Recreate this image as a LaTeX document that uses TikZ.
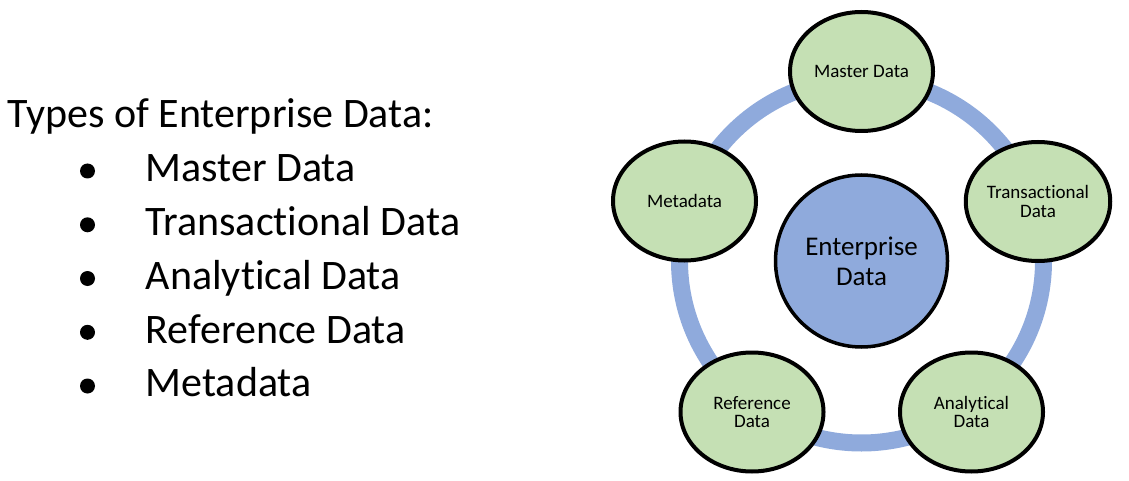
\documentclass[tikz,border=0pt]{standalone}
\usepackage{fontspec}
\setmainfont{Carlito}[Ligatures=NoCommon]
\usetikzlibrary{shapes.geometric}
\definecolor{leaf}{HTML}{C5E0B4}
\definecolor{core}{HTML}{8FAADC}
\begin{document}
\begin{tikzpicture}[x=1pt,y=-1pt,
  typebox/.style={ellipse, draw=black, line width=4pt, fill=leaf, minimum width=143pt, minimum height=119pt, inner sep=0pt, align=center, font=\fontsize{19}{18.5}\selectfont},
  hub/.style={circle, draw=black, line width=3.5pt, fill=core, minimum size=172pt, inner sep=0pt, align=center, font=\fontsize{27}{30}\selectfont},
  ring/.style={draw=core, line width=17pt},
  listtext/.style={anchor=base west, inner sep=0pt, font=\fontsize{42}{48}\selectfont},
  dot/.style={circle, fill=black, minimum size=15pt, inner sep=0pt}]
\useasboundingbox (0,0) rectangle (1129,481);
% left list
\node[listtext] (title) at (7.5,127.3) {Types of Enterprise Data:};
\node[listtext] (l1) at (145.5,181.7) {Master Data};
\node[listtext] (l2) at (145.5,235.5) {Transactional Data};
\node[listtext] (l3) at (145.5,289.2) {Analytical Data};
\node[listtext] (l4) at (145.5,343.0) {Reference Data};
\node[listtext] (l5) at (145.5,396.7) {Metadata};
\node[dot] (b1) at (87.5,171.0) {};
\node[dot] (b2) at (87.5,224.8) {};
\node[dot] (b3) at (87.5,278.5) {};
\node[dot] (b4) at (87.5,332.3) {};
\node[dot] (b5) at (87.5,386.0) {};
% cycle
\coordinate (c) at (861.5,261);
\draw[ring] (c) circle[radius=182pt];
\node[hub] (hub) at (c) {Enterprise\\Data};
\node[typebox] (master) at (861.5,71.5) {Master Data};
\node[typebox] (trans) at (1038,201.5) {Transactional\\Data};
\node[typebox] (anal) at (971.5,412) {Analytical\\Data};
\node[typebox] (ref) at (752,412) {Reference\\Data};
\node[typebox] (meta) at (684.5,201) {Metadata};
\end{tikzpicture}
\end{document}
